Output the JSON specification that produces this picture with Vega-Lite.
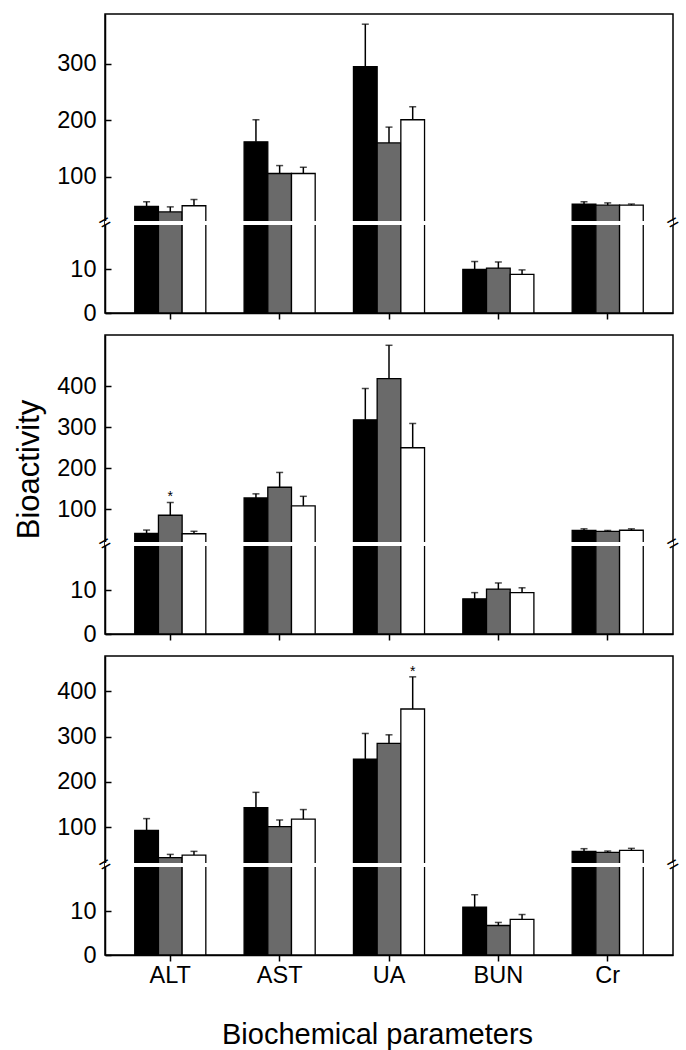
{
  "$schema": "https://vega.github.io/schema/vega-lite/v6.json",
  "padding": {"left": 12, "top": 13, "right": 5, "bottom": 0},
  "background": "white",
  "spacing": 8,
  "config": {
    "font": "Liberation Sans",
    "view": {"stroke": "black", "strokeWidth": 1.5},
    "axis": {
      "labelFont": "Liberation Sans", "labelColor": "black", "labelFontSize": 23.5,
      "titleFont": "Liberation Sans", "titleColor": "black", "titleFontWeight": "normal", "titleFontSize": 29,
      "domainColor": "black", "domainWidth": 1.5, "tickColor": "black", "tickWidth": 1.5,
      "grid": false, "zindex": 1
    }
  },
  "datasets": {
    "d": [
      {"panel": 1, "param": "ALT", "group": "A", "mean": 48, "upper": 56, "sig": ""},
      {"panel": 1, "param": "ALT", "group": "B", "mean": 38, "upper": 47, "sig": ""},
      {"panel": 1, "param": "ALT", "group": "C", "mean": 49, "upper": 60, "sig": ""},
      {"panel": 1, "param": "AST", "group": "A", "mean": 162, "upper": 201, "sig": ""},
      {"panel": 1, "param": "AST", "group": "B", "mean": 106, "upper": 120, "sig": ""},
      {"panel": 1, "param": "AST", "group": "C", "mean": 106, "upper": 117, "sig": ""},
      {"panel": 1, "param": "UA", "group": "A", "mean": 295, "upper": 370, "sig": ""},
      {"panel": 1, "param": "UA", "group": "B", "mean": 160, "upper": 188, "sig": ""},
      {"panel": 1, "param": "UA", "group": "C", "mean": 201, "upper": 224, "sig": ""},
      {"panel": 1, "param": "BUN", "group": "A", "mean": 9.9, "upper": 11.7, "sig": ""},
      {"panel": 1, "param": "BUN", "group": "B", "mean": 10.2, "upper": 11.6, "sig": ""},
      {"panel": 1, "param": "BUN", "group": "C", "mean": 8.8, "upper": 9.8, "sig": ""},
      {"panel": 1, "param": "Cr", "group": "A", "mean": 52, "upper": 56, "sig": ""},
      {"panel": 1, "param": "Cr", "group": "B", "mean": 50, "upper": 54, "sig": ""},
      {"panel": 1, "param": "Cr", "group": "C", "mean": 50, "upper": 52, "sig": ""},
      {"panel": 2, "param": "ALT", "group": "A", "mean": 42, "upper": 50, "sig": ""},
      {"panel": 2, "param": "ALT", "group": "B", "mean": 86, "upper": 117, "sig": "*"},
      {"panel": 2, "param": "ALT", "group": "C", "mean": 41, "upper": 47, "sig": ""},
      {"panel": 2, "param": "AST", "group": "A", "mean": 128, "upper": 138, "sig": ""},
      {"panel": 2, "param": "AST", "group": "B", "mean": 154, "upper": 190, "sig": ""},
      {"panel": 2, "param": "AST", "group": "C", "mean": 109, "upper": 132, "sig": ""},
      {"panel": 2, "param": "UA", "group": "A", "mean": 318, "upper": 394, "sig": ""},
      {"panel": 2, "param": "UA", "group": "B", "mean": 418, "upper": 499, "sig": ""},
      {"panel": 2, "param": "UA", "group": "C", "mean": 250, "upper": 309, "sig": ""},
      {"panel": 2, "param": "BUN", "group": "A", "mean": 8.0, "upper": 9.4, "sig": ""},
      {"panel": 2, "param": "BUN", "group": "B", "mean": 10.2, "upper": 11.6, "sig": ""},
      {"panel": 2, "param": "BUN", "group": "C", "mean": 9.4, "upper": 10.5, "sig": ""},
      {"panel": 2, "param": "Cr", "group": "A", "mean": 49, "upper": 53, "sig": ""},
      {"panel": 2, "param": "Cr", "group": "B", "mean": 47, "upper": 49, "sig": ""},
      {"panel": 2, "param": "Cr", "group": "C", "mean": 49.5, "upper": 53, "sig": ""},
      {"panel": 3, "param": "ALT", "group": "A", "mean": 93, "upper": 119, "sig": ""},
      {"panel": 3, "param": "ALT", "group": "B", "mean": 33, "upper": 40, "sig": ""},
      {"panel": 3, "param": "ALT", "group": "C", "mean": 38.5, "upper": 46.7, "sig": ""},
      {"panel": 3, "param": "AST", "group": "A", "mean": 143, "upper": 177, "sig": ""},
      {"panel": 3, "param": "AST", "group": "B", "mean": 101.5, "upper": 116, "sig": ""},
      {"panel": 3, "param": "AST", "group": "C", "mean": 118, "upper": 139, "sig": ""},
      {"panel": 3, "param": "UA", "group": "A", "mean": 250, "upper": 307, "sig": ""},
      {"panel": 3, "param": "UA", "group": "B", "mean": 285, "upper": 304, "sig": ""},
      {"panel": 3, "param": "UA", "group": "C", "mean": 361, "upper": 432, "sig": "*"},
      {"panel": 3, "param": "BUN", "group": "A", "mean": 10.9, "upper": 13.7, "sig": ""},
      {"panel": 3, "param": "BUN", "group": "B", "mean": 6.7, "upper": 7.4, "sig": ""},
      {"panel": 3, "param": "BUN", "group": "C", "mean": 8.1, "upper": 9.2, "sig": ""},
      {"panel": 3, "param": "Cr", "group": "A", "mean": 46.7, "upper": 52.6, "sig": ""},
      {"panel": 3, "param": "Cr", "group": "B", "mean": 44.4, "upper": 47.4, "sig": ""},
      {"panel": 3, "param": "Cr", "group": "C", "mean": 49, "upper": 53.3, "sig": ""}
    ],
    "one": [{"k": 1}]
  },
  "vconcat": [
    {
      "width": 568, "height": 299,
      "data": {"name": "d"},
      "transform": [{"filter": "datum.panel == 1"}],
      "encoding": {
        "x": {"field": "param", "type": "nominal", "sort": ["ALT", "AST", "UA", "BUN", "Cr"],
              "scale": {"paddingInner": 0.35, "paddingOuter": 0.272},
              "axis": {"title": null, "labels": false, "tickSize": 6, "domain": true}},
        "xOffset": {"field": "group", "type": "nominal", "sort": ["A", "B", "C"]}
      },
      "layer": [
        {"mark": {"type": "bar", "stroke": "black", "strokeWidth": 1.3},
         "encoding": {
           "y": {"field": "mean", "type": "quantitative",
                 "scale": {"domain": [0, 20, 22, 388], "range": [299, 211, 207, 0], "nice": false, "zero": false},
                 "axis": {"title": null, "values": [0, 10, 100, 200, 300], "tickSize": -6, "labelPadding": 15}},
           "fill": {"field": "group", "type": "nominal", "scale": {"domain": ["A", "B", "C"], "range": ["black", "#6a6a6a", "white"]}, "legend": null}
         }},
        {"mark": {"type": "rule", "color": "black", "strokeWidth": 1.5},
         "encoding": {"y": {"field": "mean", "type": "quantitative"}, "y2": {"field": "upper"}}},
        {"mark": {"type": "tick", "color": "black", "size": 7, "thickness": 1.5},
         "encoding": {"y": {"field": "upper", "type": "quantitative"}}},
        {"data": {"name": "one"},
         "mark": {"type": "rect", "color": "white"},
         "encoding": {"y": {"datum": 20, "type": "quantitative"}, "y2": {"datum": 22}, "x": null, "xOffset": null}},
        {"data": {"name": "one"},
         "mark": {"type": "text", "text": "=", "fontSize": 20, "angle": -30, "color": "black", "baseline": "middle", "align": "center"},
         "encoding": {"y": {"datum": 21, "type": "quantitative"}, "x": {"value": 0}, "xOffset": null}},
        {"data": {"name": "one"},
         "mark": {"type": "text", "text": "=", "fontSize": 20, "angle": -30, "color": "black", "baseline": "middle", "align": "center"},
         "encoding": {"y": {"datum": 21, "type": "quantitative"}, "x": {"value": "width"}, "xOffset": null}}
      ]
    },
    {
      "width": 568, "height": 299,
      "data": {"name": "d"},
      "transform": [{"filter": "datum.panel == 2"}],
      "encoding": {
        "x": {"field": "param", "type": "nominal", "sort": ["ALT", "AST", "UA", "BUN", "Cr"],
              "scale": {"paddingInner": 0.35, "paddingOuter": 0.272},
              "axis": {"title": null, "labels": false, "tickSize": 6, "domain": true}},
        "xOffset": {"field": "group", "type": "nominal", "sort": ["A", "B", "C"]}
      },
      "layer": [
        {"mark": {"type": "bar", "stroke": "black", "strokeWidth": 1.3},
         "encoding": {
           "y": {"field": "mean", "type": "quantitative",
                 "scale": {"domain": [0, 20, 21, 524], "range": [299, 211, 207, 0], "nice": false, "zero": false},
                 "axis": {"title": "Bioactivity", "values": [0, 10, 100, 200, 300, 400], "tickSize": -6, "labelPadding": 15,
                          "titleFontSize": 31,
                          "titleAngle": 270, "titleX": -67, "titleY": 134, "titleAlign": "center", "titleBaseline": "alphabetic"}},
           "fill": {"field": "group", "type": "nominal", "scale": {"domain": ["A", "B", "C"], "range": ["black", "#6a6a6a", "white"]}, "legend": null}
         }},
        {"mark": {"type": "rule", "color": "black", "strokeWidth": 1.5},
         "encoding": {"y": {"field": "mean", "type": "quantitative"}, "y2": {"field": "upper"}}},
        {"mark": {"type": "tick", "color": "black", "size": 7, "thickness": 1.5},
         "encoding": {"y": {"field": "upper", "type": "quantitative"}}},
        {"transform": [{"filter": "datum.sig == '*'"}],
         "mark": {"type": "text", "fontSize": 14, "color": "black", "baseline": "alphabetic", "dy": -1},
         "encoding": {"y": {"field": "upper", "type": "quantitative"}, "text": {"field": "sig"}}},
        {"data": {"name": "one"},
         "mark": {"type": "rect", "color": "white"},
         "encoding": {"y": {"datum": 20, "type": "quantitative"}, "y2": {"datum": 21}, "x": null, "xOffset": null}},
        {"data": {"name": "one"},
         "mark": {"type": "text", "text": "=", "fontSize": 20, "angle": -30, "color": "black", "baseline": "middle", "align": "center"},
         "encoding": {"y": {"datum": 20.5, "type": "quantitative"}, "x": {"value": 0}, "xOffset": null}},
        {"data": {"name": "one"},
         "mark": {"type": "text", "text": "=", "fontSize": 20, "angle": -30, "color": "black", "baseline": "middle", "align": "center"},
         "encoding": {"y": {"datum": 20.5, "type": "quantitative"}, "x": {"value": "width"}, "xOffset": null}}
      ]
    },
    {
      "width": 568, "height": 299,
      "data": {"name": "d"},
      "transform": [{"filter": "datum.panel == 3"}],
      "encoding": {
        "x": {"field": "param", "type": "nominal", "sort": ["ALT", "AST", "UA", "BUN", "Cr"],
              "scale": {"paddingInner": 0.35, "paddingOuter": 0.272},
              "axis": {"title": "Biochemical parameters", "labelAngle": 0, "tickSize": 6, "labelPadding": 2,
                       "titleX": 272, "titleY": 88, "titleAlign": "center", "titleBaseline": "alphabetic"}},
        "xOffset": {"field": "group", "type": "nominal", "sort": ["A", "B", "C"]}
      },
      "layer": [
        {"mark": {"type": "bar", "stroke": "black", "strokeWidth": 1.3},
         "encoding": {
           "y": {"field": "mean", "type": "quantitative",
                 "scale": {"domain": [0, 20, 21, 478], "range": [299, 211, 207, 0], "nice": false, "zero": false},
                 "axis": {"title": null, "values": [0, 10, 100, 200, 300, 400], "tickSize": -6, "labelPadding": 15}},
           "fill": {"field": "group", "type": "nominal", "scale": {"domain": ["A", "B", "C"], "range": ["black", "#6a6a6a", "white"]}, "legend": null}
         }},
        {"mark": {"type": "rule", "color": "black", "strokeWidth": 1.5},
         "encoding": {"y": {"field": "mean", "type": "quantitative"}, "y2": {"field": "upper"}}},
        {"mark": {"type": "tick", "color": "black", "size": 7, "thickness": 1.5},
         "encoding": {"y": {"field": "upper", "type": "quantitative"}}},
        {"transform": [{"filter": "datum.sig == '*'"}],
         "mark": {"type": "text", "fontSize": 14, "color": "black", "baseline": "alphabetic", "dy": -1},
         "encoding": {"y": {"field": "upper", "type": "quantitative"}, "text": {"field": "sig"}}},
        {"data": {"name": "one"},
         "mark": {"type": "rect", "color": "white"},
         "encoding": {"y": {"datum": 20, "type": "quantitative"}, "y2": {"datum": 21}, "x": null, "xOffset": null}},
        {"data": {"name": "one"},
         "mark": {"type": "text", "text": "=", "fontSize": 20, "angle": -30, "color": "black", "baseline": "middle", "align": "center"},
         "encoding": {"y": {"datum": 20.5, "type": "quantitative"}, "x": {"value": 0}, "xOffset": null}},
        {"data": {"name": "one"},
         "mark": {"type": "text", "text": "=", "fontSize": 20, "angle": -30, "color": "black", "baseline": "middle", "align": "center"},
         "encoding": {"y": {"datum": 20.5, "type": "quantitative"}, "x": {"value": "width"}, "xOffset": null}}
      ]
    }
  ]
}
